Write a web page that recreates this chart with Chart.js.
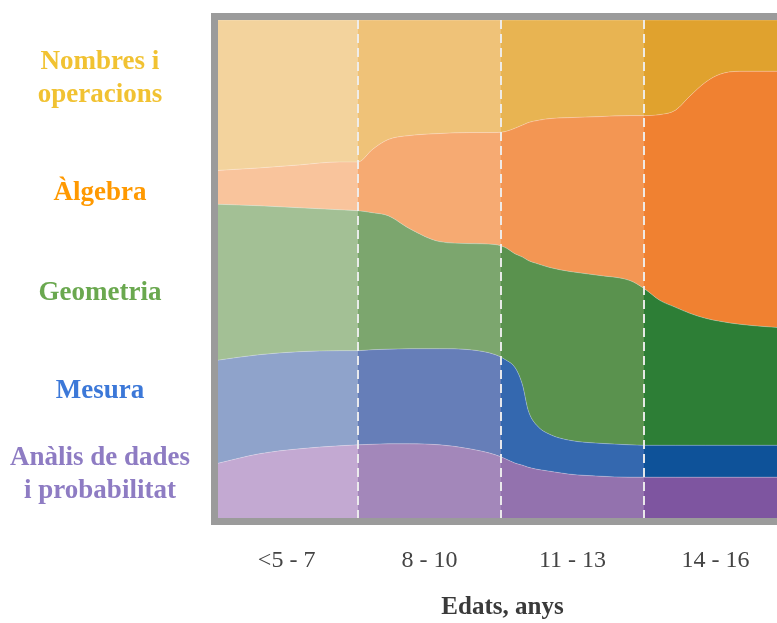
<!DOCTYPE html>
<html>
<head>
<meta charset="utf-8">
<title>Continguts per edats</title>
<script src="https://cdn.jsdelivr.net/npm/chart.js@4.4.1/dist/chart.umd.min.js"></script>
<style>
    html, body { margin: 0; padding: 0; overflow: hidden; background: #fff; }
    #wrap { position: absolute; left: 0; top: 0; width: 787px; height: 623px; }
</style>
</head>
<body>
<div id="wrap"><canvas id="streamChart"></canvas></div>
<script>
// age bands on the x axis (one unit per band)
const ageGroups = ['<5 - 7', '8 - 10', '11 - 13', '14 - 16'];

// topics, top to bottom
const topicLabels = [['Nombres i', 'operacions'], 'Àlgebra', 'Geometria', 'Mesura', ['Anàlis de dades', 'i probabilitat']];
const topicLabelAt = [88.2, 65.3, 45.2, 25.5, 8.7];

// sample points along the age axis
const ageX = [0.02, 0.31, 0.59, 0.87, 1.0, 1.10, 1.21, 1.36, 1.57, 1.78, 1.96, 2.03, 2.10, 2.15,
              2.19, 2.25, 2.34, 2.48, 2.69, 2.90, 3.0, 3.11, 3.22, 3.32, 3.43, 3.53, 3.67, 4.0];

// share of each topic (%) at every sample point
const nombres   = [30.2, 29.7, 29.1, 28.5, 28.5, 26.0, 24.0, 23.2, 22.8, 22.6, 22.6, 22.4, 21.7, 21.1,
                   20.6, 20.2, 19.8, 19.6, 19.4, 19.2, 19.2, 19.0, 18.1, 15.3, 12.5, 10.9, 10.3, 10.3];
const algebra   = [6.8, 7.6, 8.6, 9.6, 9.8, 12.7, 15.3, 18.7, 21.7, 22.3, 22.5, 23.3, 25.3, 26.5,
                   27.7, 28.7, 29.9, 30.9, 31.9, 33.1, 34.7, 37.3, 39.6, 43.6, 47.4, 49.6, 50.8, 51.6];
const geometria = [31.3, 29.9, 28.9, 28.3, 28.1, 27.5, 26.8, 24.1, 21.5, 21.3, 22.1, 22.5, 22.9, 25.7,
                   30.1, 32.5, 33.5, 33.9, 33.7, 33.0, 31.5, 29.1, 27.7, 26.5, 25.5, 24.9, 24.3, 23.5];
const mesura    = [20.7, 19.9, 19.5, 19.1, 18.9, 19.0, 19.0, 19.1, 19.3, 19.9, 20.1, 19.9, 19.1, 16.1,
                   11.4, 8.8, 7.4, 6.8, 6.6, 6.5, 6.4, 6.4, 6.4, 6.4, 6.4, 6.4, 6.4, 6.4];
const analisi   = [11.0, 12.9, 13.9, 14.5, 14.7, 14.8, 14.9, 14.9, 14.7, 13.9, 12.7, 11.9, 11.0, 10.6,
                   10.2, 9.8, 9.4, 8.8, 8.4, 8.2, 8.2, 8.2, 8.2, 8.2, 8.2, 8.2, 8.2, 8.2];

// styling
const serif = "'Liberation Serif', 'DejaVu Serif', serif";
const labelColors = ['#f1c232', '#ff9900', '#6aa84f', '#3c78d8', '#8e7cc3'];
const bandShades = {
    nombres:   ['#f3d39d', '#efc278', '#e8b452', '#e0a22e'],
    algebra:   ['#f9c49c', '#f6aa72', '#f39653', '#f08131'],
    geometria: ['#a3c095', '#7ca66e', '#5a924e', '#2d7e36'],
    mesura:    ['#8fa3cb', '#667eb8', '#3468af', '#0e5299'],
    analisi:   ['#c3a9d2', '#a387ba', '#9372ae', '#7e55a0']
};

// fill each stream with a flat shade per age band
function bandFill(shades) {
    return (context) => {
        const chart = context.chart;
        const area = chart.chartArea;
        const x = chart.scales.x;
        if (!area || !x) return shades[0];
        const w = area.right - area.left;
        const frac = v => Math.min(1, Math.max(0, (x.getPixelForValue(v) - area.left) / w));
        const g = chart.ctx.createLinearGradient(area.left, 0, area.right, 0);
        shades.forEach((c, i) => {
            g.addColorStop(frac(x.min > i ? x.min : i), c);
            g.addColorStop(frac(i + 1 < x.max ? i + 1 : x.max), c);
        });
        return g;
    };
}

function series(values) {
    return values.map((v, i) => ({ x: ageX[i], y: v }));
}

const streams = [
    { data: analisi, shades: bandShades.analisi },
    { data: mesura, shades: bandShades.mesura },
    { data: geometria, shades: bandShades.geometria },
    { data: algebra, shades: bandShades.algebra },
    { data: nombres, shades: bandShades.nombres }
];

const bandFrame = {
    id: 'bandFrame',
    afterDatasetsDraw(chart) {
        const { ctx, chartArea: a, scales } = chart;
        ctx.save();
        ctx.strokeStyle = 'rgba(238,238,238,0.95)';
        ctx.lineWidth = 2;
        ctx.setLineDash([9, 5]);
        for (let i = 1; i < ageGroups.length; i++) {
            const x = Math.round(scales.x.getPixelForValue(i));
            ctx.beginPath();
            ctx.moveTo(x, a.top);
            ctx.lineTo(x, a.bottom);
            ctx.stroke();
        }
        ctx.setLineDash([]);
        ctx.strokeStyle = '#9b9b9b';
        ctx.lineWidth = 7;
        ctx.strokeRect(a.left - 3.5, a.top - 3.5, a.right - a.left + 7, a.bottom - a.top + 7);
        ctx.restore();
    }
};

new Chart(document.getElementById('streamChart').getContext('2d'), {
    type: 'line',
    data: {
        datasets: streams.map((s, i) => ({
            data: series(s.data),
            fill: i === 0 ? 'origin' : '-1',
            backgroundColor: bandFill(s.shades),
            borderColor: 'rgba(255,255,255,0.25)',
            borderWidth: 1,
            pointRadius: 0,
            cubicInterpolationMode: 'monotone'
        }))
    },
    options: {
        responsive: true,
        maintainAspectRatio: false,
        animation: false,
        layout: { padding: { top: 20, left: 0, right: 0, bottom: 0 } },
        plugins: { legend: { display: false }, tooltip: { enabled: false } },
        scales: {
            x: {
                type: 'linear',
                min: 0.02,
                max: 4,
                grid: { display: false, drawTicks: false },
                border: { display: false },
                afterBuildTicks: (s) => { s.ticks = ageGroups.map((g, i) => ({ value: i + 0.5 })); },
                afterFit: (s) => { s.height = 105; s.paddingLeft = 0; s.paddingRight = 0; },
                ticks: {
                    autoSkip: false,
                    maxRotation: 0,
                    padding: 28,
                    color: '#444',
                    font: { family: serif, size: 24 },
                    callback: (v, i) => ageGroups[i]
                },
                title: {
                    display: true,
                    text: 'Edats, anys',
                    color: '#3a3a3a',
                    font: { family: serif, size: 25, weight: 'bold' },
                    padding: { top: 0, bottom: 0 }
                }
            },
            y: {
                stacked: true,
                min: 0,
                max: 100,
                grid: { display: false, drawTicks: false },
                border: { display: false },
                afterBuildTicks: (s) => { s.ticks = topicLabelAt.map(v => ({ value: v })); },
                afterFit: (s) => { s.width = 218; s.paddingTop = 0; s.paddingBottom = 0; },
                ticks: {
                    autoSkip: false,
                    crossAlign: 'center',
                    padding: 28,
                    color: (c) => labelColors[c.index],
                    font: { family: serif, size: 27, weight: 'bold', lineHeight: 1.22 },
                    callback: (v, i) => topicLabels[i]
                }
            }
        }
    },
    plugins: [bandFrame]
});
</script>
</body>
</html>
